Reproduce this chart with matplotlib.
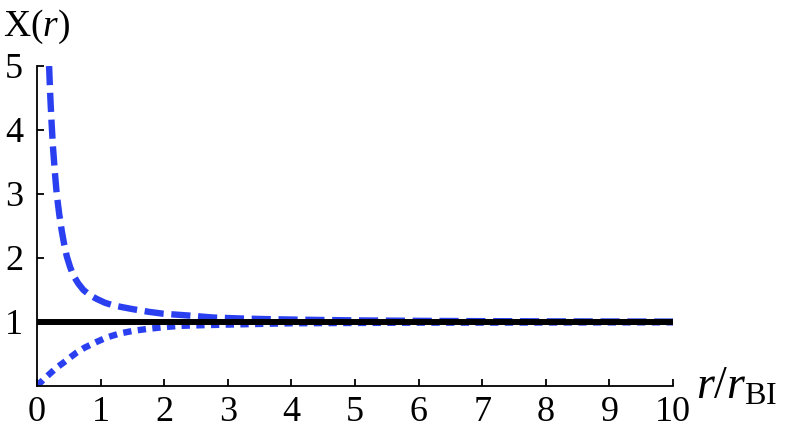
import matplotlib
matplotlib.use("Agg")
import matplotlib.pyplot as plt

# 読み取った値
r_up = [0.19, 0.21, 0.23, 0.25, 0.28, 0.31, 0.35, 0.39, 0.43, 0.47, 0.52, 0.57, 0.65, 0.73,
        0.83, 0.94, 1.07, 1.2, 1.35, 1.51, 1.75, 1.98, 2.4, 2.77, 3.2, 3.6, 4.2, 5.0, 6.0,
        7.0, 8.0, 9.0, 10.0]
x_up = [5.0, 4.5, 4.1, 3.75, 3.35, 3.0, 2.68, 2.42, 2.2, 2.02, 1.86, 1.73, 1.6, 1.5,
        1.42, 1.36, 1.3, 1.26, 1.23, 1.2, 1.16, 1.13, 1.1, 1.07, 1.055, 1.045, 1.035, 1.025, 1.018,
        1.013, 1.01, 1.008, 1.006]

r_dn = [0.0, 0.1, 0.2, 0.3, 0.41, 0.5, 0.62, 0.75, 0.94, 1.1, 1.3, 1.5, 1.72, 2.0, 2.25,
        2.6, 3.03, 3.5, 4.0, 5.0, 6.0, 7.0, 8.0, 9.0, 10.0]
x_dn = [0.0, 0.1, 0.19, 0.28, 0.36, 0.43, 0.52, 0.6, 0.69, 0.76, 0.82, 0.86, 0.89, 0.92, 0.94,
        0.95, 0.96, 0.97, 0.98, 0.985, 0.99, 0.99, 0.992, 0.994, 0.995]

r_one = [0, 10]
x_one = [1, 1]

x_ticks = [0, 1, 2, 3, 4, 5, 6, 7, 8, 9, 10]
y_ticks = [1, 2, 3, 4, 5]

plt.rcParams["font.family"] = ["Liberation Serif", "DejaVu Serif"]
plt.rcParams["mathtext.fontset"] = "custom"
plt.rcParams["mathtext.rm"] = "Liberation Serif"
plt.rcParams["mathtext.it"] = "Liberation Serif:italic"

blue = "#2a40f0"

fig = plt.figure(figsize=(7.9, 4.34), dpi=100)
ax = fig.add_axes([37 / 790, 48 / 434, 636 / 790, 320 / 434])

# 黒線は青い曲線の上に描く
ax.plot(r_dn, x_dn, color=blue, lw=4.6, linestyle=(0, (1.3, 1.0)), dash_capstyle="butt", zorder=2)
ax.plot(r_up, x_up, color=blue, lw=4.6, linestyle=(0, (3.0, 1.2)), dash_capstyle="butt", zorder=3)
ax.plot(r_one, x_one, color="black", lw=4.3, solid_capstyle="projecting", zorder=4)

ax.set_xlim(0, 10)
ax.set_ylim(0, 5)
ax.set_xticks(x_ticks)
ax.set_yticks(y_ticks)
for s in ["top", "right"]:
    ax.spines[s].set_visible(False)
for s in ["left", "bottom"]:
    ax.spines[s].set_linewidth(1.3)
ax.tick_params(direction="in", length=5, width=1.3, labelsize=26)
ax.tick_params(axis="x", pad=7)
ax.tick_params(axis="y", pad=10)

fig.text(3 / 790, 1 - 36 / 434, "X($r$)", ha="left", va="baseline", fontsize=27)
fig.text(696 / 790, 1 - 399 / 434, r"$r/r_{\mathrm{BI}}$", ha="left", va="baseline", fontsize=33)

fig.savefig("out.png", dpi=100)
